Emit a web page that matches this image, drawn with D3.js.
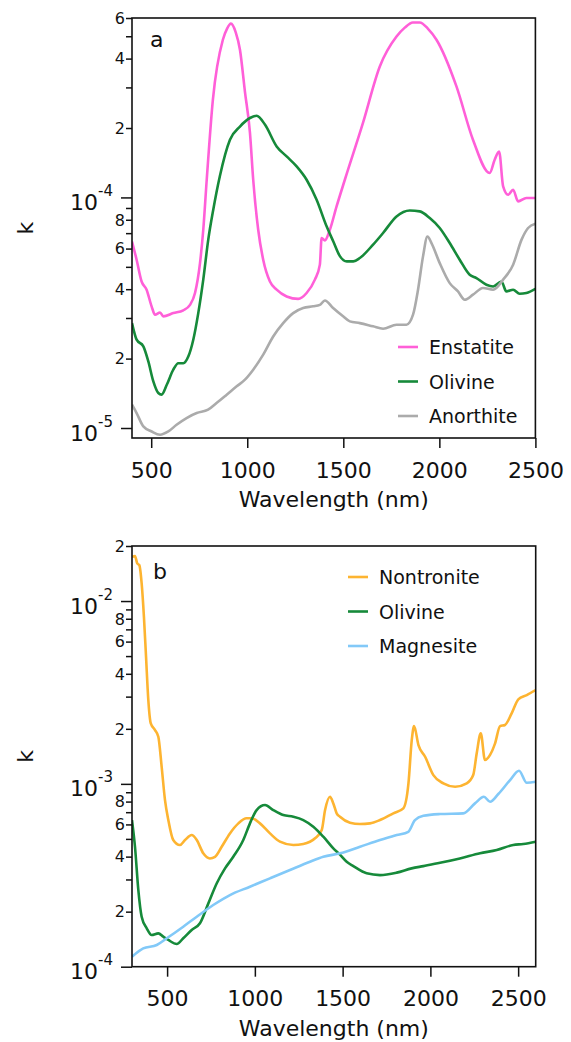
<!DOCTYPE html>
<html>
<head>
<meta charset="utf-8">
<script src="https://cdn.jsdelivr.net/npm/d3@7"></script>
<style>
  body { margin: 0; background: #fff; }
  svg { display: block; font-family: "DejaVu Sans", sans-serif; }
</style>
</head>
<body>
<div id="chart"></div>
<script>
// ---- Panel a data (wavelength in nm, k) ----
const enstatiteWl = [400, 424, 450, 476, 502, 520, 546, 563, 615, 667, 702, 728, 754, 771, 789, 821, 873, 895, 915, 940, 962, 988, 1014, 1031, 1057, 1083, 1118, 1153, 1205, 1265, 1309, 1352, 1378, 1387, 1404, 1430, 1465, 1508, 1602, 1690, 1777, 1820, 1862, 1898, 1940, 1985, 2089, 2175, 2262, 2288, 2311, 2332, 2358, 2384, 2410, 2453, 2500];
const enstatiteK = [6.44e-5, 5.37e-5, 4.32e-5, 3.98e-5, 3.37e-5, 3.10e-5, 3.17e-5, 3.05e-5, 3.15e-5, 3.24e-5, 3.42e-5, 3.85e-5, 5.19e-5, 7.24e-5, 1.193e-4, 2.65e-4, 4.83e-4, 5.4e-4, 5.67e-4, 5.2e-4, 4.37e-4, 2.87e-4, 1.91e-4, 1.193e-4, 7.24e-5, 5.37e-5, 4.32e-5, 3.98e-5, 3.72e-5, 3.63e-5, 3.85e-5, 4.40e-5, 5.11e-5, 6.67e-5, 6.51e-5, 7.24e-5, 9.14e-5, 1.193e-4, 2.1e-4, 3.70e-4, 4.99e-4, 5.45e-4, 5.74e-4, 5.74e-4, 5.4e-4, 4.83e-4, 3.03e-4, 1.78e-4, 1.276e-4, 1.457e-4, 1.583e-4, 1.116e-4, 1.027e-4, 1.08e-4, 9.61e-5, 9.94e-5, 9.94e-5];

const olivineAWl = [400, 424, 459, 485, 511, 537, 554, 581, 615, 641, 667, 693, 719, 745, 771, 797, 823, 857, 910, 962, 1014, 1049, 1092, 1153, 1205, 1257, 1309, 1361, 1413, 1448, 1483, 1518, 1552, 1586, 1655, 1707, 1777, 1846, 1898, 1950, 2002, 2054, 2106, 2158, 2193, 2245, 2280, 2323, 2349, 2384, 2418, 2453, 2500];
const olivineAK = [2.85e-5, 2.415e-5, 2.26e-5, 1.944e-5, 1.593e-5, 1.418e-5, 1.395e-5, 1.54e-5, 1.79e-5, 1.91e-5, 1.91e-5, 2.04e-5, 2.415e-5, 3.15e-5, 4.40e-5, 6.56e-5, 8.85e-5, 1.233e-4, 1.78e-4, 2.03e-4, 2.21e-4, 2.26e-4, 2.07e-4, 1.664e-4, 1.506e-4, 1.363e-4, 1.193e-4, 9.77e-5, 7.49e-5, 6.44e-5, 5.55e-5, 5.28e-5, 5.28e-5, 5.46e-5, 6.24e-5, 7.01e-5, 8.27e-5, 8.78e-5, 8.70e-5, 8.14e-5, 7.37e-5, 6.34e-5, 5.37e-5, 4.62e-5, 4.47e-5, 4.18e-5, 4.11e-5, 4.32e-5, 3.91e-5, 3.98e-5, 3.82e-5, 3.85e-5, 4.01e-5];

const anorthiteWl = [400, 424, 459, 502, 546, 589, 632, 684, 737, 796, 840, 893, 945, 988, 1031, 1083, 1135, 1187, 1239, 1291, 1343, 1378, 1404, 1447, 1499, 1534, 1586, 1655, 1707, 1777, 1829, 1863, 1889, 1915, 1938, 1959, 2002, 2054, 2097, 2132, 2175, 2227, 2280, 2332, 2384, 2428, 2462, 2500];
const anorthiteK = [1.262e-5, 1.161e-5, 1.016e-5, 9.66e-6, 9.35e-6, 9.66e-6, 1.033e-5, 1.105e-5, 1.161e-5, 1.20e-5, 1.283e-5, 1.395e-5, 1.516e-5, 1.62e-5, 1.79e-5, 2.08e-5, 2.495e-5, 2.85e-5, 3.15e-5, 3.315e-5, 3.37e-5, 3.42e-5, 3.575e-5, 3.315e-5, 3.05e-5, 2.90e-5, 2.85e-5, 2.76e-5, 2.695e-5, 2.805e-5, 2.805e-5, 3.10e-5, 3.98e-5, 5.55e-5, 6.77e-5, 6.34e-5, 5.19e-5, 4.25e-5, 3.91e-5, 3.60e-5, 3.785e-5, 4.05e-5, 3.98e-5, 4.40e-5, 5.11e-5, 6.56e-5, 7.37e-5, 7.69e-5];

// ---- Panel b data ----
const nontroniteWl = [300, 317, 330, 342, 355, 368, 380, 393, 407, 431, 450, 469, 488, 507, 535, 573, 602, 640, 669, 706, 744, 773, 811, 858, 906, 953, 982, 1029, 1086, 1143, 1219, 1276, 1343, 1381, 1400, 1428, 1447, 1466, 1485, 1542, 1599, 1656, 1713, 1789, 1846, 1875, 1894, 1907, 1932, 1970, 2017, 2074, 2141, 2207, 2244, 2264, 2287, 2311, 2340, 2368, 2397, 2425, 2463, 2501, 2549, 2600];
const nontroniteK = [1.745e-2, 1.76e-2, 1.606e-2, 1.57e-2, 1.248e-2, 8.19e-3, 4.95e-3, 2.87e-3, 2.14e-3, 1.97e-3, 1.81e-3, 1.24e-3, 8.15e-4, 6.34e-4, 4.93e-4, 4.63e-4, 4.93e-4, 5.25e-4, 4.93e-4, 4.17e-4, 3.91e-4, 3.99e-4, 4.53e-4, 5.36e-4, 6.08e-4, 6.48e-4, 6.48e-4, 6.08e-4, 5.36e-4, 4.83e-4, 4.63e-4, 4.69e-4, 5.04e-4, 5.59e-4, 7.19e-4, 8.50e-4, 7.82e-4, 6.90e-4, 6.61e-4, 6.13e-4, 6.03e-4, 6.08e-4, 6.34e-4, 6.90e-4, 7.35e-4, 1.006e-3, 1.74e-3, 2.07e-3, 1.63e-3, 1.407e-3, 1.117e-3, 1.006e-3, 9.64e-4, 1.006e-3, 1.117e-3, 1.47e-3, 1.89e-3, 1.35e-3, 1.44e-3, 1.66e-3, 2.07e-3, 2.10e-3, 2.43e-3, 2.90e-3, 3.06e-3, 3.26e-3];

const olivineBWl = [300, 317, 336, 355, 384, 412, 450, 478, 507, 555, 592, 640, 687, 735, 783, 830, 877, 934, 972, 1010, 1058, 1105, 1162, 1219, 1276, 1333, 1390, 1447, 1485, 1523, 1561, 1637, 1713, 1808, 1893, 1960, 2055, 2168, 2283, 2378, 2472, 2529, 2600];
const olivineBK = [6.34e-4, 4.53e-4, 2.63e-4, 1.877e-4, 1.622e-4, 1.491e-4, 1.522e-4, 1.459e-4, 1.40e-4, 1.331e-4, 1.43e-4, 1.588e-4, 1.727e-4, 2.22e-4, 2.86e-4, 3.45e-4, 3.99e-4, 4.93e-4, 6.08e-4, 7.19e-4, 7.66e-4, 7.19e-4, 6.75e-4, 6.61e-4, 6.34e-4, 5.83e-4, 5.14e-4, 4.44e-4, 4.10e-4, 3.75e-4, 3.55e-4, 3.24e-4, 3.17e-4, 3.27e-4, 3.45e-4, 3.55e-4, 3.70e-4, 3.91e-4, 4.17e-4, 4.35e-4, 4.63e-4, 4.69e-4, 4.83e-4];

const magnesiteWl = [300, 364, 441, 498, 592, 669, 763, 858, 972, 1086, 1200, 1314, 1390, 1485, 1599, 1713, 1808, 1874, 1912, 1960, 2055, 2187, 2254, 2305, 2340, 2387, 2454, 2505, 2549, 2600];
const magnesiteK = [1.134e-4, 1.26e-4, 1.314e-4, 1.43e-4, 1.655e-4, 1.877e-4, 2.175e-4, 2.466e-4, 2.738e-4, 3.043e-4, 3.38e-4, 3.75e-4, 3.99e-4, 4.17e-4, 4.53e-4, 4.93e-4, 5.25e-4, 5.47e-4, 6.34e-4, 6.69e-4, 6.84e-4, 6.90e-4, 7.82e-4, 8.50e-4, 7.98e-4, 8.80e-4, 1.049e-3, 1.18e-3, 1.014e-3, 1.027e-3];

// Axis ticks
const xTicks = [500, 1000, 1500, 2000, 2500];
const legendA = ["Enstatite", "Olivine", "Anorthite"];
const legendB = ["Nontronite", "Olivine", "Magnesite"];

let width = 571, height = 1042;

let svg = d3.select("#chart")
    .append("svg")
    .attr("width", width)
    .attr("height", height);

const panels = [
    {
        label: "a", top: 18, bottom: 438, left: 132, right: 535.4,
        xDomain: [400, 2500], yDomain: [9.05e-6, 6e-4],
        series: [
            {wl: enstatiteWl, k: enstatiteK, color: "#ff5fd8"},
            {wl: olivineAWl, k: olivineAK, color: "#168a3a"},
            {wl: anorthiteWl, k: anorthiteK, color: "#ababab"}
        ],
        names: legendA, legendX: 398, legendY: 347, labelX: 150, labelY: 47
    },
    {
        label: "b", top: 546, bottom: 966.7, left: 132, right: 535.7,
        xDomain: [300, 2600], yDomain: [1e-4, 2e-2],
        series: [
            {wl: nontroniteWl, k: nontroniteK, color: "#fdb431"},
            {wl: olivineBWl, k: olivineBK, color: "#168a3a"},
            {wl: magnesiteWl, k: magnesiteK, color: "#82c9f8"}
        ],
        names: legendB, legendX: 348, legendY: 577, labelX: 153, labelY: 579
    }
];

panels.forEach((p, i) => {
    const x = d3.scaleLinear().domain(p.xDomain).range([p.left, p.right]);
    const y = d3.scaleLog().domain(p.yDomain).range([p.bottom, p.top]);

    const g = svg.append("g");

    const clipId = "clip" + i;
    g.append("clipPath").attr("id", clipId)
        .append("rect")
        .attr("x", p.left).attr("y", p.top)
        .attr("width", p.right - p.left).attr("height", p.bottom - p.top);

    // Curves
    const line = d3.line()
        .x(d => x(d[0]))
        .y(d => y(d[1]))
        .curve(d3.curveMonotoneX);

    p.series.forEach(s => {
        g.append("path")
            .datum(s.wl.map((w, j) => [w, s.k[j]]))
            .attr("clip-path", `url(#${clipId})`)
            .attr("fill", "none")
            .attr("stroke", s.color)
            .attr("stroke-width", 2.6)
            .attr("stroke-linejoin", "round")
            .attr("d", line);
    });

    // Frame
    g.append("rect")
        .attr("x", p.left).attr("y", p.top)
        .attr("width", p.right - p.left).attr("height", p.bottom - p.top)
        .attr("fill", "none")
        .attr("stroke", "#111")
        .attr("stroke-width", 1.6);

    // x-axis
    g.append("g")
        .attr("transform", `translate(0, ${p.bottom})`)
        .call(d3.axisBottom(x).tickValues(xTicks).tickSize(10).tickSizeOuter(0)
            .tickPadding(14).tickFormat(d3.format("d")))
        .call(ax => {
            ax.attr("font-family", null).attr("font-size", null);
            ax.select(".domain").remove();
            ax.selectAll("line").attr("stroke", "#111").attr("stroke-width", 1.5);
            ax.selectAll("text").style("font-size", "22px").attr("fill", "#111");
        });

    // y-axis with log ticks
    const yTicks = y.ticks().filter(v => v >= p.yDomain[0] * 0.999 && v <= p.yDomain[1] * 1.001);
    const mant = v => Math.round(v / Math.pow(10, Math.floor(Math.log10(v) + 1e-9)));

    g.append("g")
        .attr("transform", `translate(${p.left}, 0)`)
        .call(d3.axisLeft(y).tickValues(yTicks).tickSize(6).tickSizeOuter(0).tickFormat(""))
        .call(ax => {
            ax.select(".domain").remove();
            ax.selectAll("line")
                .attr("stroke", "#111").attr("stroke-width", 1.5)
                .attr("x2", d => mant(d) === 1 ? -11 : -6);
        });

    yTicks.forEach(v => {
        const m = mant(v);
        if (m === 1) {
            const e = Math.round(Math.log10(v));
            const t = g.append("text")
                .attr("x", p.left - 19)
                .attr("y", y(v) + 12.5)
                .attr("text-anchor", "end")
                .attr("fill", "#111");
            t.append("tspan").style("font-size", "22px").text("10");
            t.append("tspan").style("font-size", "15px").attr("dy", -14).text(e);
        } else if (m % 2 === 0) {
            g.append("text")
                .attr("x", p.left - 7)
                .attr("y", y(v))
                .attr("dy", "0.36em")
                .attr("text-anchor", "end")
                .style("font-size", "16px")
                .attr("fill", "#111")
                .text(m);
        }
    });

    // Axis titles
    g.append("text")
        .attr("x", (p.left + p.right) / 2)
        .attr("y", p.bottom + 69)
        .attr("text-anchor", "middle")
        .style("font-size", "22px")
        .attr("fill", "#111")
        .text("Wavelength (nm)");

    g.append("text")
        .attr("transform", `translate(33, ${(p.top + p.bottom) / 2}) rotate(-90)`)
        .attr("text-anchor", "middle")
        .style("font-size", "22px")
        .attr("fill", "#111")
        .text("k");

    // Panel label
    g.append("text")
        .attr("x", p.labelX).attr("y", p.labelY)
        .style("font-size", "22px")
        .attr("fill", "#111")
        .text(p.label);

    // Legend
    p.series.forEach((s, j) => {
        const ly = p.legendY + j * 34.5;
        g.append("line")
            .attr("x1", p.legendX).attr("x2", p.legendX + 20)
            .attr("y1", ly).attr("y2", ly)
            .attr("stroke", s.color).attr("stroke-width", 2.6);
        g.append("text")
            .attr("x", p.legendX + 31).attr("y", ly + 7)
            .style("font-size", "19px")
            .attr("fill", "#111")
            .text(p.names[j]);
    });
});
</script>
</body>
</html>
